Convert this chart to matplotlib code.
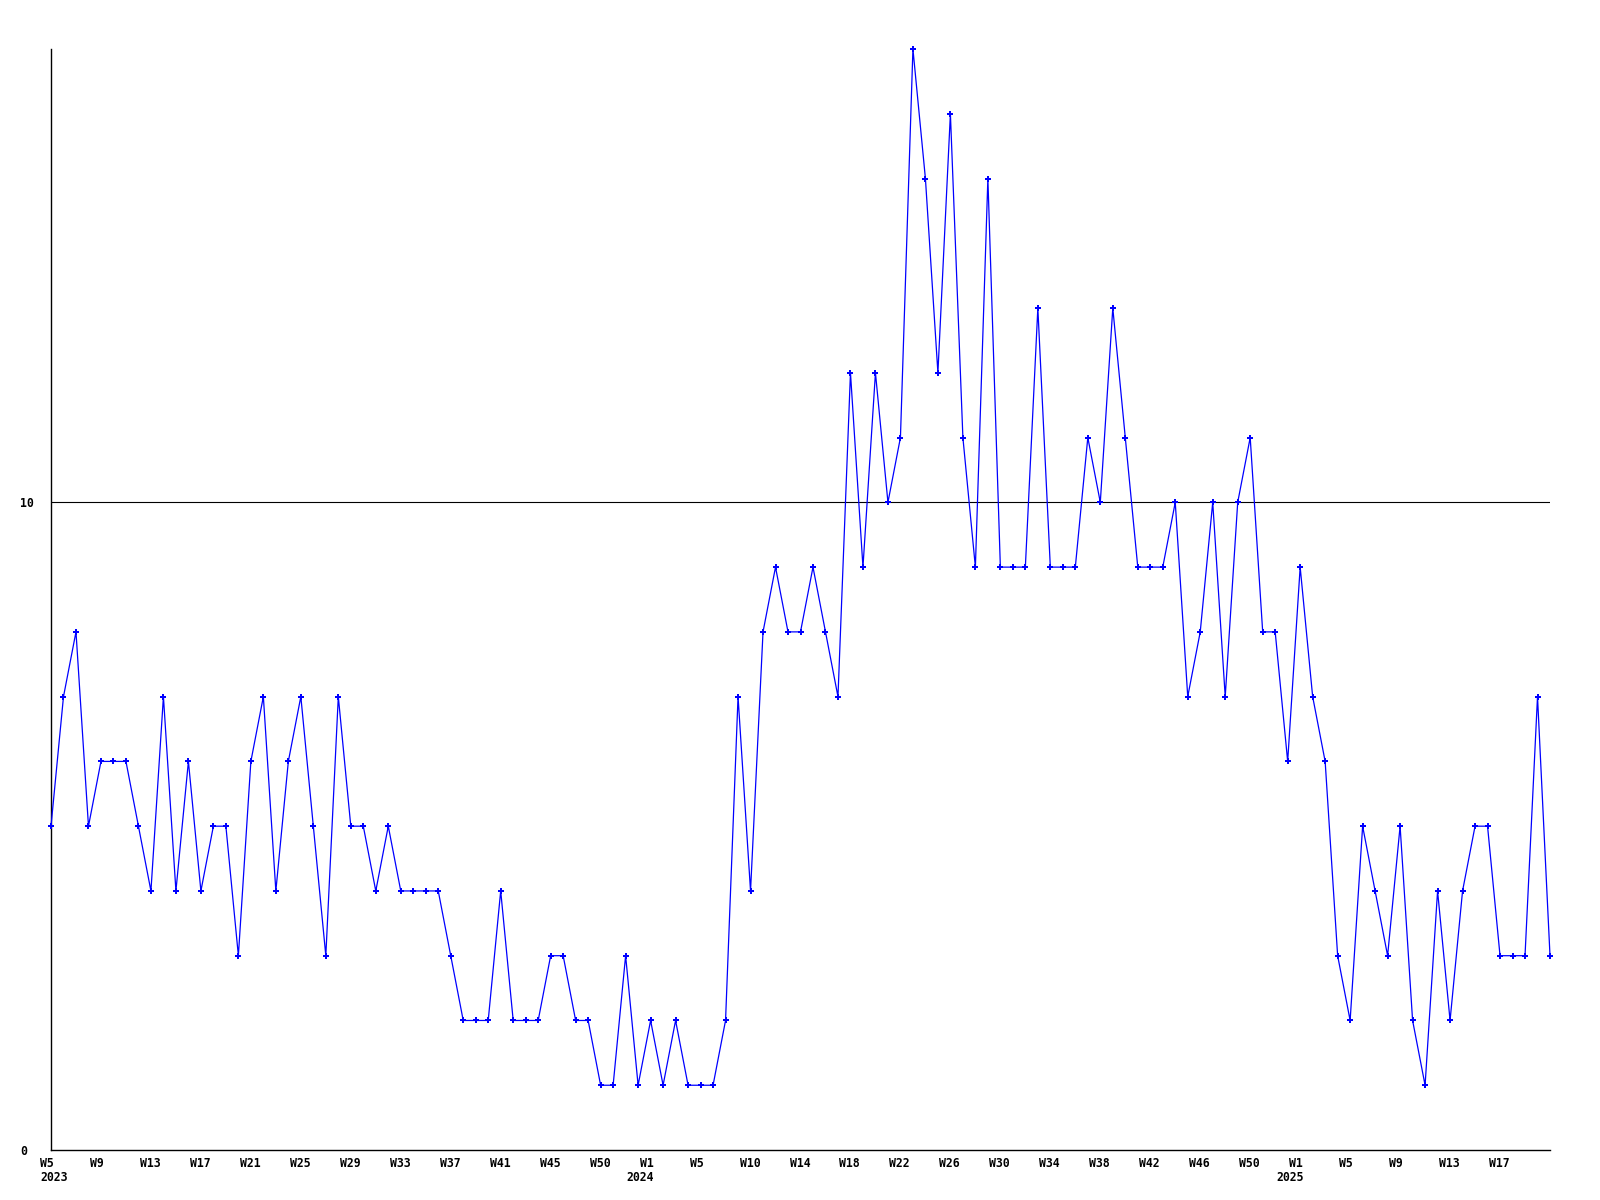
import matplotlib
matplotlib.use("Agg")
import matplotlib.pyplot as plt
import matplotlib.transforms as mtrans
import numpy as np

# weekly counts, 2023 W5 .. 2025 W21
counts = [5, 7, 8, 5, 6, 6, 6, 5, 4, 7,
          4, 6, 4, 5, 5, 3, 6, 7, 4, 6,
          7, 5, 3, 7, 5, 5, 4, 5, 4, 4,
          4, 4, 3, 2, 2, 2, 4, 2, 2, 2,
          3, 3, 2, 2, 1, 1, 3, 1, 2, 1,
          2, 1, 1, 1, 2, 7, 4, 8, 9, 8,
          8, 9, 8, 7, 12, 9, 12, 10, 11, 17,
          15, 12, 16, 11, 9, 15, 9, 9, 9, 13,
          9, 9, 9, 11, 10, 13, 11, 9, 9, 9,
          10, 7, 8, 10, 7, 10, 11, 8, 8, 6,
          9, 7, 6, 3, 2, 5, 4, 3, 5, 2,
          1, 4, 2, 4, 5, 5, 3, 3, 3, 7,
          3]

# label every 4th point
week_labels = ["W5", "W9", "W13", "W17", "W21", "W25", "W29", "W33", "W37", "W41",
               "W45", "W50", "W1", "W5", "W10", "W14", "W18", "W22", "W26", "W30",
               "W34", "W38", "W42", "W46", "W50", "W1", "W5", "W9", "W13", "W17"]
# point index where each year label sits
year_pos = [0, 48, 100]
year_names = ["2023", "2024", "2025"]

y_ticks = [0, 10]

x = np.arange(len(counts))

fig = plt.figure(figsize=(16, 12), dpi=100)
ax = fig.add_axes([51 / 1600, 50 / 1200, 1499 / 1600, 1101 / 1200])

ax.axhline(10, color="black", lw=0.8, zorder=1)
ax.plot(x, counts, color="#0000ff", lw=0.9, marker="P", ms=4, mew=0,
        clip_on=False, zorder=3)

ax.set_xlim(0, len(counts) - 1)
ax.set_ylim(0, 17)

for s in ["top", "right"]:
    ax.spines[s].set_visible(False)
for s in ["left", "bottom"]:
    ax.spines[s].set_linewidth(1.0)
    ax.spines[s].set_color("black")

font = dict(family="DejaVu Sans Mono", weight="bold", size=8.3)

ax.set_xticks(x[:len(week_labels) * 4:4])
ax.set_xticklabels(week_labels, ha="left", va="top", **font)
ax.set_yticks(y_ticks)
ax.set_yticklabels([str(v) for v in y_ticks], ha="left", **font)
ax.tick_params(axis="x", length=0, pad=5)
ax.tick_params(axis="y", length=0, pad=22)

shift = mtrans.ScaledTranslation(-11 / 100, 0, fig.dpi_scale_trans)
for lab in ax.get_xticklabels():
    lab.set_transform(lab.get_transform() + shift)

# year under the week labels (first one can't go left of the axis)
for k, (p, yr) in enumerate(zip(year_pos, year_names)):
    dx = -11 if k == 0 else -24
    ax.annotate(yr, xy=(p, 0), xycoords=("data", "axes fraction"),
                xytext=(dx, -21), textcoords="offset pixels",
                ha="left", va="top", annotation_clip=False, **font)

fig.savefig("out.png", dpi=100)
